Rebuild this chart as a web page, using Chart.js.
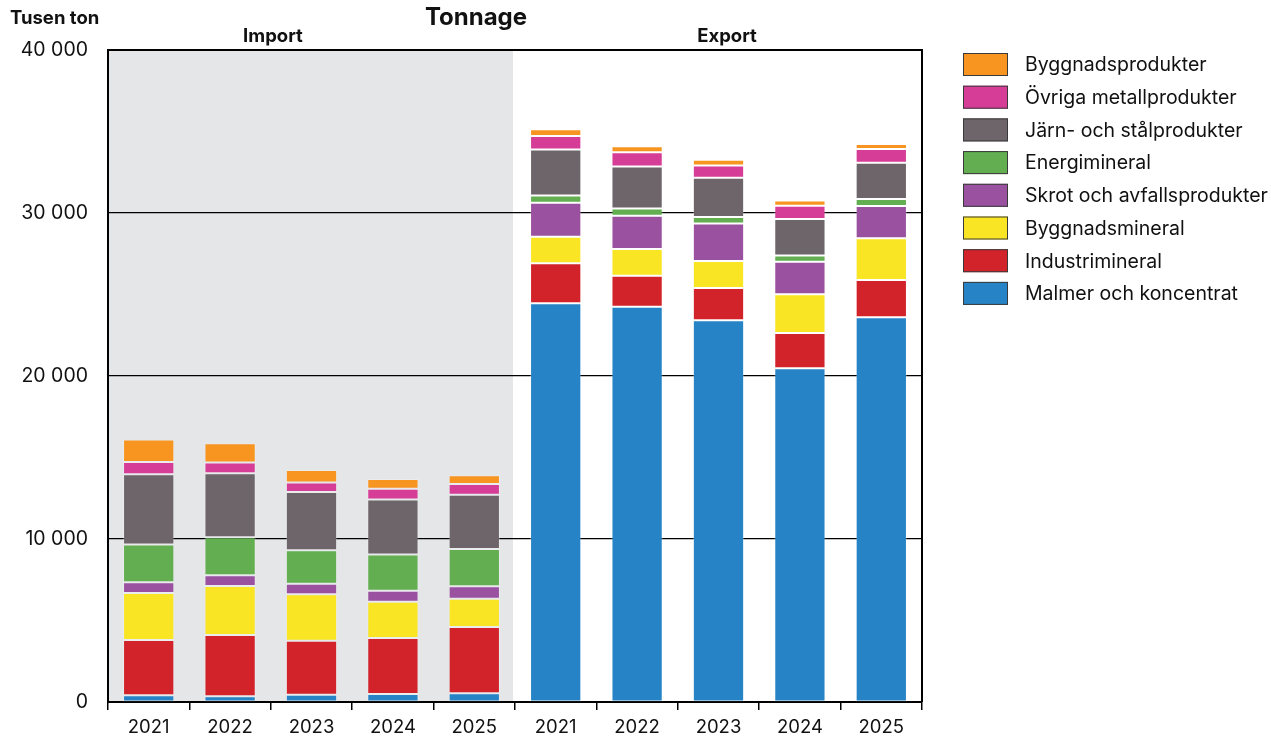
<!DOCTYPE html>
<html>
<head>
<meta charset="utf-8">
<script src="https://cdn.jsdelivr.net/npm/chart.js@4"></script>
<style>
  body { margin: 0; background: #fff; }
  #wrap { width: 1271px; height: 740px; }
</style>
</head>
<body>
<div id="wrap"><canvas id="tonnageChart" width="1271" height="740"></canvas></div>
<script>
// kategorier: import 2021-2025, sedan export 2021-2025
const years = ['2021', '2022', '2023', '2024', '2025', '2021', '2022', '2023', '2024', '2025'];
const groupLabels = ['Import', 'Export'];

// tusen ton
const malmer =        [410, 350, 450, 490, 530, 24460, 24250, 23420, 20470, 23600];
const industri =      [3390, 3760, 3310, 3430, 4070, 2450, 1900, 1980, 2170, 2290];
const byggMineral =   [2880, 3010, 2850, 2230, 1740, 1630, 1640, 1660, 2370, 2560];
const skrot =         [660, 660, 650, 670, 760, 2090, 2040, 2290, 2000, 1980];
const energi =        [2330, 2330, 2050, 2230, 2290, 450, 450, 410, 390, 430];
const jarnStal =      [4310, 3930, 3580, 3380, 3330, 2820, 2580, 2410, 2230, 2230];
const ovrigaMetall =  [740, 650, 570, 650, 660, 830, 860, 740, 820, 840];
const byggProdukter = [1390, 1190, 780, 600, 530, 410, 370, 350, 310, 310];

const yTicks = [0, 10000, 20000, 30000, 40000];

const FONT = 'Inter, "DejaVu Sans", sans-serif';

function makeSet(label, data, color) {
    return {
        label: label,
        data: data,
        backgroundColor: color,
        borderColor: 'rgba(255,255,255,0.25)',
        borderWidth: 1,
        borderSkipped: false,
        barPercentage: 0.63,
        categoryPercentage: 1
    };
}

// bakgrund, ram, rubriker och legend ritas här
const extras = {
    id: 'extras',
    beforeDraw(chart) {
        const ctx = chart.ctx;
        const a = chart.chartArea;
        const x = chart.scales.x;
        const mid = (x.getPixelForValue(4) + x.getPixelForValue(5)) / 2;
        ctx.save();
        ctx.fillStyle = '#e5e6e8';
        ctx.fillRect(a.left, a.top, mid - 2 - a.left, a.bottom - a.top);
        ctx.restore();
    },
    afterDraw(chart) {
        const ctx = chart.ctx;
        const a = chart.chartArea;
        ctx.save();
        // ram
        ctx.strokeStyle = '#000';
        ctx.lineWidth = 2;
        ctx.beginPath();
        ctx.moveTo(a.left, a.top);
        ctx.lineTo(a.right, a.top);
        ctx.lineTo(a.right, a.bottom);
        ctx.stroke();

        ctx.fillStyle = '#111';
        ctx.textBaseline = 'middle';
        ctx.textAlign = 'center';
        ctx.font = 'bold 24px ' + FONT;
        ctx.fillText('Tonnage', 476, 18);
        ctx.font = 'bold 18.5px ' + FONT;
        ctx.fillText(groupLabels[0], 273, 36);
        ctx.fillText(groupLabels[1], 727, 36);
        ctx.textAlign = 'left';
        ctx.font = 'bold 18.5px ' + FONT;
        ctx.fillText('Tusen ton', 10, 18);

        // legend, omvänd ordning
        const sets = chart.data.datasets.slice().reverse();
        ctx.font = '19.5px ' + FONT;
        sets.forEach((ds, i) => {
            const cy = 64.5 + i * 32.7;
            ctx.fillStyle = ds.backgroundColor;
            ctx.fillRect(963, cy - 11.5, 45, 23);
            ctx.strokeStyle = '#3a3a3a';
            ctx.lineWidth = 1;
            ctx.strokeRect(963.5, cy - 11, 44, 22);
            ctx.fillStyle = '#111';
            ctx.fillText(ds.label, 1025, cy + 1);
        });
        ctx.restore();
    }
};

document.addEventListener('DOMContentLoaded', () => {
    const ctx = document.getElementById('tonnageChart').getContext('2d');
    new Chart(ctx, {
        type: 'bar',
        data: {
            labels: years,
            datasets: [
                makeSet('Malmer och koncentrat', malmer, '#2683c6'),
                makeSet('Industrimineral', industri, '#d2232a'),
                makeSet('Byggnadsmineral', byggMineral, '#f9e523'),
                makeSet('Skrot och avfallsprodukter', skrot, '#9a52a0'),
                makeSet('Energimineral', energi, '#62ae50'),
                makeSet('Järn- och stålprodukter', jarnStal, '#6e656b'),
                makeSet('Övriga metallprodukter', ovrigaMetall, '#d63d96'),
                makeSet('Byggnadsprodukter', byggProdukter, '#f79520')
            ]
        },
        options: {
            responsive: false,
            animation: false,
            layout: { padding: { left: 0, right: 1271 - 922, top: 50, bottom: 0 } },
            plugins: {
                legend: { display: false },
                tooltip: { enabled: false }
            },
            scales: {
                x: {
                    stacked: true,
                    afterFit: (s) => { s.height = 38; },
                    grid: {
                        offset: true,
                        drawOnChartArea: false,
                        drawTicks: true,
                        tickLength: 8,
                        color: '#000',
                        lineWidth: 1.5
                    },
                    border: { color: '#000', width: 2 },
                    ticks: {
                        color: '#111',
                        font: { family: FONT, size: 18.5 },
                        padding: 6,
                        maxRotation: 0,
                        autoSkip: false
                    }
                },
                y: {
                    stacked: true,
                    min: 0,
                    max: 40000,
                    afterFit: (s) => { s.width = 108; },
                    afterBuildTicks: (s) => { s.ticks = yTicks.map(v => ({ value: v })); },
                    grid: {
                        drawTicks: false,
                        color: (c) => (c.tick && c.tick.value > 0 && c.tick.value < 40000) ? '#000' : 'rgba(0,0,0,0)',
                        lineWidth: 1.2
                    },
                    border: { color: '#000', width: 2 },
                    ticks: {
                        color: '#111',
                        font: { family: FONT, size: 19.5 },
                        padding: 20,
                        callback: (v) => String(v).replace(/\B(?=(\d{3})+(?!\d))/g, ' ')
                    }
                }
            }
        },
        plugins: [extras]
    });
});
</script>
</body>
</html>
